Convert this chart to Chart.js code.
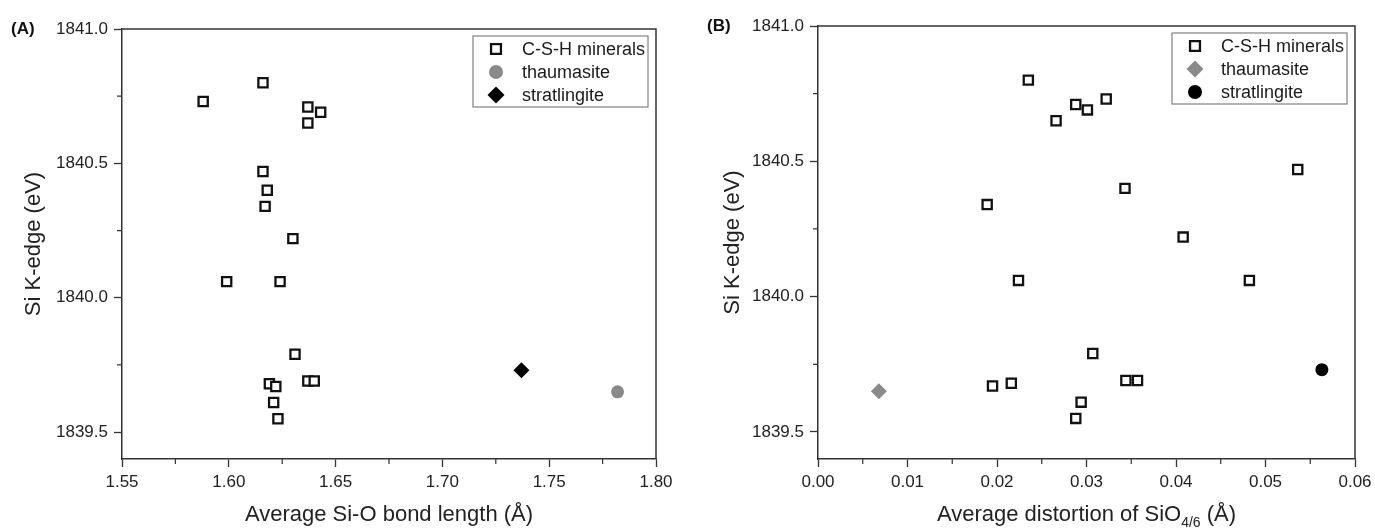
<!DOCTYPE html>
<html>
<head>
<meta charset="utf-8">
<script src="https://cdn.jsdelivr.net/npm/chart.js@4"></script>
<style>
  html, body { margin: 0; padding: 0; background: #fff; }
  #wrap { position: relative; width: 1375px; height: 528px; }
  canvas { position: absolute; top: 0; }
  #ca { left: 0; }
  #cb { left: 687px; }
</style>
</head>
<body>
<div id="wrap">
  <canvas id="ca" width="687" height="528"></canvas>
  <canvas id="cb" width="688" height="528"></canvas>
</div>
<script>
// Si K-edge position of each C-S-H mineral (eV)
const cshEdge = [1840.73, 1840.80, 1840.71, 1840.69, 1840.65, 1840.47, 1840.40, 1840.34, 1840.22,
                 1840.06, 1840.06, 1839.79, 1839.68, 1839.67, 1839.69, 1839.69, 1839.61, 1839.55];
// average Si-O bond length of each C-S-H mineral (Å)
const cshBondLength = [1.588, 1.616, 1.637, 1.643, 1.637, 1.616, 1.618, 1.617, 1.630,
                       1.599, 1.624, 1.631, 1.619, 1.622, 1.637, 1.640, 1.621, 1.623];
// average distortion of the SiO4/6 polyhedra of each C-S-H mineral (Å)
const cshDistortion = [0.0322, 0.0235, 0.0288, 0.0301, 0.0266, 0.0536, 0.0343, 0.0189, 0.0408,
                       0.0224, 0.0482, 0.0307, 0.0216, 0.0195, 0.0344, 0.0357, 0.0294, 0.0288];

const thaumasiteEdge = [1839.65];
const thaumasiteBondLength = [1.782];
const thaumasiteDistortion = [0.0068];

const stratlingiteEdge = [1839.73];
const stratlingiteBondLength = [1.737];
const stratlingiteDistortion = [0.0563];

// axis ticks
const edgeTicks = [1839.5, 1840.0, 1840.5, 1841.0];
const edgeMinorTicks = [1839.75, 1840.25, 1840.75];
const bondTicks = [1.55, 1.60, 1.65, 1.70, 1.75, 1.80];
const bondMinorTicks = [1.575, 1.625, 1.675, 1.725, 1.775];
const distortionTicks = [0.00, 0.01, 0.02, 0.03, 0.04, 0.05, 0.06];
const distortionMinorTicks = [0.005, 0.015, 0.025, 0.035, 0.045, 0.055];

const FONT = '"Liberation Sans", Arial, Helvetica, sans-serif';
const AXIS = '#333';
const TEXT = '#222';
const GREY = '#8a8a8a';

function points(xs, ys) {
  return xs.map((x, i) => ({ x: x, y: ys[i] }));
}

function shapePath(ctx, style, r, x, y) {
  ctx.beginPath();
  if (style === 'rect') {
    const s = Math.SQRT1_2 * r;
    ctx.rect(x - s, y - s, 2 * s, 2 * s);
  } else if (style === 'rectRot') {
    ctx.moveTo(x, y - r); ctx.lineTo(x + r, y); ctx.lineTo(x, y + r); ctx.lineTo(x - r, y);
    ctx.closePath();
  } else {
    ctx.arc(x, y, r, 0, Math.PI * 2);
  }
}

// frame, minor ticks, panel letter, x-axis title and the in-plot legend
const panelDecor = {
  id: 'panelDecor',
  afterDraw(chart, args, o) {
    const ctx = chart.ctx;
    const a = chart.chartArea;
    const sx = chart.scales.x, sy = chart.scales.y;
    ctx.save();

    ctx.strokeStyle = AXIS;
    ctx.lineWidth = 1.5;
    ctx.beginPath();
    ctx.moveTo(a.left - 0.75, a.top);
    ctx.lineTo(a.right, a.top);
    ctx.lineTo(a.right, a.bottom);
    ctx.stroke();

    ctx.lineWidth = 1.2;
    ctx.beginPath();
    o.xMinor.forEach(v => {
      const px = sx.getPixelForValue(v);
      ctx.moveTo(px, a.bottom); ctx.lineTo(px, a.bottom + 5);
    });
    o.yMinor.forEach(v => {
      const py = sy.getPixelForValue(v);
      ctx.moveTo(a.left, py); ctx.lineTo(a.left - 5, py);
    });
    ctx.stroke();

    // panel letter
    ctx.fillStyle = '#111';
    ctx.font = 'bold 17px ' + FONT;
    ctx.textAlign = 'left';
    ctx.textBaseline = 'middle';
    ctx.fillText(o.letter, o.letterX, a.top);

    // x-axis title, parts may be subscripted
    const mainFont = '22px ' + FONT, subFont = '14px ' + FONT;
    let total = 0;
    o.xTitle.forEach(p => { ctx.font = p.sub ? subFont : mainFont; total += ctx.measureText(p.t).width; });
    let tx = (a.left + a.right) / 2 - total / 2;
    const ty = a.bottom + 62;
    ctx.fillStyle = TEXT;
    ctx.textBaseline = 'alphabetic';
    o.xTitle.forEach(p => {
      ctx.font = p.sub ? subFont : mainFont;
      ctx.fillText(p.t, tx, p.sub ? ty + 6 : ty);
      tx += ctx.measureText(p.t).width;
    });

    // legend box
    const bw = 175, bh = 71;
    const bx = a.right - 8 - bw, by = a.top + 7;
    ctx.fillStyle = '#fff';
    ctx.fillRect(bx, by, bw, bh);
    ctx.strokeStyle = '#808080';
    ctx.lineWidth = 1.2;
    ctx.strokeRect(bx, by, bw, bh);
    ctx.font = '18px ' + FONT;
    ctx.textBaseline = 'middle';
    chart.data.datasets.forEach((ds, i) => {
      const cx = bx + 23, cy = by + 13 + i * 23;
      shapePath(ctx, ds.pointStyle, ds.pointRadius + 0.5, cx, cy);
      ctx.fillStyle = ds.backgroundColor;
      ctx.fill();
      if (ds.borderWidth > 0) {
        ctx.strokeStyle = ds.borderColor;
        ctx.lineWidth = ds.borderWidth;
        ctx.stroke();
      }
      ctx.fillStyle = '#1a1a1a';
      ctx.fillText(ds.label, bx + 49, cy + 1);
    });

    ctx.restore();
  }
};

function makePanel(canvasId, cfg) {
  const W = cfg.width;
  return new Chart(document.getElementById(canvasId), {
    type: 'scatter',
    data: { datasets: cfg.datasets },
    options: {
      responsive: false,
      animation: false,
      devicePixelRatio: 1,
      layout: { padding: { left: 0, top: cfg.area.top, right: W - cfg.area.right, bottom: 0 } },
      plugins: {
        legend: { display: false },
        tooltip: { enabled: false },
        panelDecor: cfg.decor
      },
      scales: {
        x: {
          type: 'linear',
          min: cfg.xTicks[0],
          max: cfg.xTicks[cfg.xTicks.length - 1],
          afterBuildTicks: s => { s.ticks = cfg.xTicks.map(v => ({ value: v })); },
          afterFit: s => { s.height = 528 - cfg.area.bottom; s.paddingLeft = 0; s.paddingRight = 0; },
          ticks: {
            callback: v => Number(v).toFixed(2),
            color: TEXT, font: { family: FONT, size: 17 }, padding: 5, maxRotation: 0
          },
          grid: { drawOnChartArea: false, tickLength: 8, tickColor: AXIS, tickWidth: 1.3 },
          border: { color: AXIS, width: 1.5 }
        },
        y: {
          type: 'linear',
          min: 1839.4,
          max: 1841.0,
          afterBuildTicks: s => { s.ticks = edgeTicks.map(v => ({ value: v })); },
          afterFit: s => { s.width = cfg.area.left; s.paddingTop = 0; s.paddingBottom = 0; },
          ticks: {
            callback: v => Number(v).toFixed(1),
            color: TEXT, font: { family: FONT, size: 17 }, padding: 6
          },
          grid: { drawOnChartArea: false, tickLength: 8, tickColor: AXIS, tickWidth: 1.3 },
          border: { color: AXIS, width: 1.5 },
          title: {
            display: true, text: 'Si K-edge (eV)', color: TEXT,
            font: { family: FONT, size: 22 }, padding: { top: cfg.yTitlePad, bottom: 0 }
          }
        }
      }
    },
    plugins: [panelDecor]
  });
}

const cshStyle = {
  label: 'C-S-H minerals', pointStyle: 'rect', pointRadius: 6.5,
  backgroundColor: '#fff', borderColor: '#111', borderWidth: 2.3
};

makePanel('ca', {
  width: 687,
  area: { left: 122, top: 29, right: 656, bottom: 459 },
  xTicks: bondTicks,
  yTitlePad: 21,
  datasets: [
    Object.assign({ data: points(cshBondLength, cshEdge) }, cshStyle),
    { label: 'thaumasite', data: points(thaumasiteBondLength, thaumasiteEdge),
      pointStyle: 'circle', pointRadius: 6.5, backgroundColor: GREY, borderColor: GREY, borderWidth: 0 },
    { label: 'stratlingite', data: points(stratlingiteBondLength, stratlingiteEdge),
      pointStyle: 'rectRot', pointRadius: 8, backgroundColor: '#000', borderColor: '#000', borderWidth: 0 }
  ],
  decor: {
    letter: '(A)', letterX: 11,
    xMinor: bondMinorTicks, yMinor: edgeMinorTicks,
    xTitle: [{ t: 'Average Si-O bond length (Å)' }]
  }
});

makePanel('cb', {
  width: 688,
  area: { left: 131, top: 26, right: 668, bottom: 459 },
  xTicks: distortionTicks,
  yTitlePad: 33,
  datasets: [
    Object.assign({ data: points(cshDistortion, cshEdge) }, cshStyle),
    { label: 'thaumasite', data: points(thaumasiteDistortion, thaumasiteEdge),
      pointStyle: 'rectRot', pointRadius: 8, backgroundColor: GREY, borderColor: GREY, borderWidth: 0 },
    { label: 'stratlingite', data: points(stratlingiteDistortion, stratlingiteEdge),
      pointStyle: 'circle', pointRadius: 6.5, backgroundColor: '#000', borderColor: '#000', borderWidth: 0 }
  ],
  decor: {
    letter: '(B)', letterX: 20,
    xMinor: distortionMinorTicks, yMinor: edgeMinorTicks,
    xTitle: [{ t: 'Average distortion of SiO' }, { t: '4/6', sub: true }, { t: ' (Å)' }]
  }
});
</script>
</body>
</html>
